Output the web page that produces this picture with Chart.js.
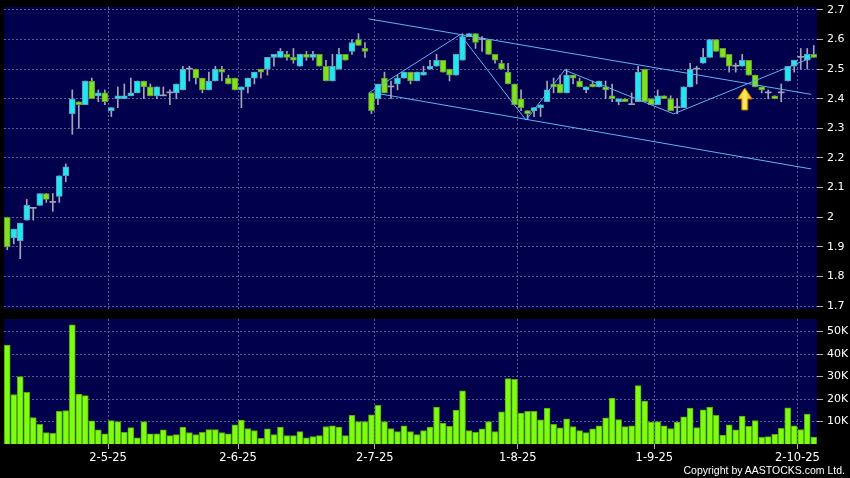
<!DOCTYPE html>
<html>
<head>
<meta charset="utf-8">
<script src="https://cdn.jsdelivr.net/npm/chart.js@4.4.1/dist/chart.umd.min.js"></script>
<style>
  html, body { margin: 0; padding: 0; background: #000; }
  #wrap { position: relative; width: 850px; height: 478px; background: #000; overflow: hidden; }
  #priceChart { position: absolute; left: 0; top: -3px; }
  #volChart { position: absolute; left: 0; top: 309px; }
  #copy { position: absolute; right: 5px; top: 464px; font: 10.5px "Liberation Sans", Arial, sans-serif; color: #fff; line-height: 12px; white-space: nowrap; }
</style>
</head>
<body>
<div id="wrap">
  <canvas id="priceChart" width="850" height="322"></canvas>
  <canvas id="volChart" width="850" height="169"></canvas>
  <div id="copy">Copyright by AASTOCKS.com Ltd.</div>
</div>
<script>
// daily candles, one entry per trading day (left to right)
const opens = [
  2.00, 1.93, 1.92, 1.99, 2.03, 2.04, 2.08, 2.05, 2.07, 2.14,
  2.35, 2.39, 2.38, 2.46, 2.41, 2.42, 2.36, 2.40, 2.40, 2.41,
  2.42, 2.46, 2.44, 2.41, 2.41, 2.42, 2.42, 2.43, 2.50, 2.50,
  2.47, 2.43, 2.46, 2.50, 2.47, 2.47, 2.43, 2.44, 2.47, 2.50,
  2.50, 2.54, 2.54, 2.55, 2.54, 2.51, 2.55, 2.54, 2.55, 2.51,
  2.46, 2.50, 2.55, 2.56, 2.60, 2.57, 2.42, 2.40, 2.47, 2.44,
  2.45, 2.47, 2.49, 2.46, 2.48, 2.50, 2.51, 2.53, 2.50, 2.48,
  2.53, 2.61, 2.62, 2.60, 2.60, 2.55, 2.52, 2.49, 2.45, 2.40,
  2.36, 2.36, 2.37, 2.39, 2.45, 2.45, 2.42, 2.48, 2.46, 2.43,
  2.45, 2.44, 2.44, 2.41, 2.39, 2.40, 2.38, 2.39, 2.50, 2.40,
  2.38, 2.41, 2.40, 2.37, 2.37, 2.44, 2.50, 2.52, 2.54, 2.60,
  2.57, 2.55, 2.51, 2.51, 2.53, 2.48, 2.44, 2.42, 2.41, 2.42,
  2.46, 2.51, 2.54, 2.53, 2.55
];
const highs = [
  2.00, 1.96, 1.98, 2.06, 2.03, 2.08, 2.08, 2.08, 2.14, 2.18,
  2.43, 2.39, 2.46, 2.47, 2.43, 2.43, 2.37, 2.44, 2.45, 2.47,
  2.46, 2.46, 2.45, 2.44, 2.44, 2.43, 2.45, 2.51, 2.51, 2.50,
  2.47, 2.49, 2.51, 2.51, 2.48, 2.47, 2.44, 2.47, 2.49, 2.50,
  2.54, 2.55, 2.57, 2.56, 2.57, 2.55, 2.56, 2.56, 2.55, 2.53,
  2.55, 2.57, 2.55, 2.60, 2.62, 2.59, 2.42, 2.45, 2.49, 2.46,
  2.48, 2.49, 2.49, 2.49, 2.51, 2.53, 2.55, 2.53, 2.50, 2.55,
  2.62, 2.62, 2.62, 2.61, 2.60, 2.55, 2.53, 2.52, 2.45, 2.43,
  2.36, 2.37, 2.38, 2.46, 2.47, 2.48, 2.50, 2.48, 2.47, 2.44,
  2.46, 2.46, 2.46, 2.45, 2.40, 2.40, 2.42, 2.51, 2.50, 2.40,
  2.43, 2.41, 2.41, 2.40, 2.44, 2.52, 2.51, 2.57, 2.60, 2.60,
  2.57, 2.55, 2.52, 2.55, 2.53, 2.48, 2.44, 2.43, 2.41, 2.45,
  2.51, 2.53, 2.57, 2.57, 2.58
];
const lows = [
  1.89, 1.91, 1.86, 1.99, 1.99, 2.04, 2.05, 2.02, 2.05, 2.12,
  2.28, 2.30, 2.38, 2.40, 2.39, 2.38, 2.34, 2.37, 2.40, 2.41,
  2.42, 2.40, 2.41, 2.40, 2.41, 2.38, 2.40, 2.43, 2.46, 2.45,
  2.42, 2.43, 2.46, 2.46, 2.45, 2.43, 2.37, 2.42, 2.45, 2.47,
  2.48, 2.51, 2.54, 2.53, 2.52, 2.51, 2.53, 2.53, 2.51, 2.46,
  2.46, 2.50, 2.53, 2.55, 2.58, 2.54, 2.35, 2.38, 2.42, 2.40,
  2.43, 2.47, 2.45, 2.46, 2.48, 2.50, 2.51, 2.49, 2.46, 2.48,
  2.53, 2.61, 2.57, 2.56, 2.55, 2.52, 2.50, 2.45, 2.38, 2.36,
  2.33, 2.34, 2.34, 2.39, 2.42, 2.42, 2.42, 2.45, 2.44, 2.42,
  2.44, 2.44, 2.40, 2.39, 2.38, 2.39, 2.38, 2.39, 2.39, 2.38,
  2.38, 2.40, 2.36, 2.35, 2.37, 2.44, 2.45, 2.52, 2.54, 2.56,
  2.54, 2.49, 2.49, 2.51, 2.48, 2.44, 2.42, 2.40, 2.40, 2.39,
  2.46, 2.49, 2.50, 2.50, 2.54
];
const closes = [
  1.90, 1.96, 1.98, 2.04, 2.03, 2.08, 2.06, 2.05, 2.14, 2.17,
  2.40, 2.38, 2.46, 2.40, 2.42, 2.39, 2.37, 2.41, 2.41, 2.42,
  2.46, 2.44, 2.41, 2.44, 2.41, 2.42, 2.45, 2.50, 2.50, 2.47,
  2.43, 2.46, 2.50, 2.49, 2.45, 2.43, 2.44, 2.47, 2.49, 2.49,
  2.54, 2.55, 2.56, 2.54, 2.53, 2.55, 2.54, 2.55, 2.51, 2.46,
  2.51, 2.55, 2.53, 2.59, 2.58, 2.56, 2.36, 2.45, 2.42, 2.44,
  2.47, 2.49, 2.46, 2.49, 2.49, 2.51, 2.53, 2.49, 2.48, 2.55,
  2.61, 2.62, 2.59, 2.60, 2.55, 2.53, 2.50, 2.45, 2.38, 2.37,
  2.35, 2.37, 2.38, 2.43, 2.44, 2.42, 2.48, 2.47, 2.44, 2.44,
  2.44, 2.46, 2.43, 2.40, 2.40, 2.39, 2.38, 2.49, 2.39, 2.38,
  2.41, 2.40, 2.36, 2.37, 2.44, 2.50, 2.50, 2.54, 2.60, 2.56,
  2.54, 2.51, 2.51, 2.53, 2.48, 2.44, 2.43, 2.42, 2.40, 2.42,
  2.51, 2.53, 2.54, 2.55, 2.54
];
const volumes = [
  44000, 22000, 30000, 23000, 11800, 8700, 5100, 4800, 14500, 14900,
  53000, 22200, 21500, 10300, 6300, 4500, 10400, 10000, 5200, 7300,
  2800, 10000, 4500, 4500, 6300, 3700, 4200, 7500, 5100, 4200,
  5200, 6400, 6400, 5100, 4500, 8500, 10600, 6900, 6000, 2500,
  6700, 4200, 7500, 3700, 3700, 5500, 2800, 3300, 3700, 7800,
  8100, 7500, 3700, 12700, 10000, 10000, 13000, 17200, 10000, 6900,
  5500, 8100, 5500, 4200, 6000, 7500, 16400, 9300, 7900, 15100,
  23600, 6000, 5200, 6700, 10000, 5500, 14300, 29100, 28800, 13700,
  14500, 14500, 10700, 16000, 8800, 7200, 11200, 7800, 6000, 5100,
  6700, 8100, 11600, 20400, 10900, 7800, 8100, 26000, 19100, 9700,
  10000, 8100, 6900, 9700, 12100, 16000, 7300, 15200, 16400, 12700,
  4000, 8500, 6300, 12400, 7900, 10400, 3000, 3300, 4300, 7000,
  16100, 8100, 6400, 13300, 3100
];

// axis ticks (x positions are day indexes, grid falls between two days)
const tickPos = [15.5, 35.5, 56.5, 78.5, 99.5, 121.5];
const tickLabels = ['2-5-25', '2-6-25', '2-7-25', '1-8-25', '1-9-25', '2-10-25'];
const priceTicks = [1.7, 1.8, 1.9, 2.0, 2.1, 2.2, 2.3, 2.4, 2.5, 2.6, 2.7];
const volTicks = [10000, 20000, 30000, 40000, 50000];

// drawn trend lines (day index, price)
const upperLine = [{ x: 55.55, y: 2.670 }, { x: 123.6, y: 2.415 }];
const lowerLine = [{ x: 56.9, y: 2.418 }, { x: 123.6, y: 2.163 }];
const zigzag = [
  { x: 55.6, y: 2.420 }, { x: 69.65, y: 2.617 }, { x: 79.76, y: 2.328 },
  { x: 85.7, y: 2.497 }, { x: 102.47, y: 2.349 }, { x: 123.66, y: 2.539 }
];
const arrowAt = { x: 113.4, y: 2.4365 };

const NAVY = '#00004c';
const GRID = '#5c5c96';
const UP = '#22e6f2', UP_EDGE = '#5c9fb8';
const DOWN = '#7ee21e', DOWN_EDGE = '#5f9a34';
const WICK = '#a4a4b8';
const VOL = '#7efc12', VOL_EDGE = '#52aa0c';
const TREND = '#5ab6f2';
const N = opens.length;

const plotBg = {
    id: 'plotBg',
    beforeDraw(chart) {
        const a = chart.chartArea;
        const c = chart.ctx;
        c.save();
        c.fillStyle = NAVY;
        c.fillRect(a.left, a.top, a.right - a.left, a.bottom - a.top);
        c.restore();
    }
};

const arrowMark = {
    id: 'arrowMark',
    afterDatasetsDraw(chart) {
        const c = chart.ctx;
        const px = chart.scales.x.getPixelForValue(arrowAt.x);
        const py = chart.scales.y.getPixelForValue(arrowAt.y);
        c.save();
        const g = c.createLinearGradient(px - 7, 0, px + 7, 0);
        g.addColorStop(0, '#ffb400');
        g.addColorStop(0.5, '#fff060');
        g.addColorStop(1, '#f0a000');
        c.fillStyle = g;
        c.strokeStyle = '#b87800';
        c.lineWidth = 1;
        c.beginPath();
        c.moveTo(px, py);
        c.lineTo(px + 7.5, py + 11);
        c.lineTo(px + 3, py + 11);
        c.lineTo(px + 3, py + 22);
        c.lineTo(px - 3, py + 22);
        c.lineTo(px - 3, py + 11);
        c.lineTo(px - 7.5, py + 11);
        c.closePath();
        c.fill();
        c.stroke();
        c.restore();
    }
};

function bodyColor(ctx) {
    const i = ctx.dataIndex;
    if (closes[i] > opens[i]) return UP;
    if (closes[i] < opens[i]) return DOWN;
    return WICK;
}
function bodyEdge(ctx) {
    const i = ctx.dataIndex;
    if (closes[i] > opens[i]) return UP_EDGE;
    if (closes[i] < opens[i]) return DOWN_EDGE;
    return WICK;
}

const bodyData = opens.map((o, i) => ({ x: i, y: [o, closes[i]] }));
const wickData = lows.map((l, i) => ({ x: i, y: [l, highs[i]] }));
const volData = volumes.map((v, i) => ({ x: i, y: v }));

// label half height (6) + tick padding (4) is reserved above/below each plot
const fontY = { family: 'DejaVu Sans', size: 11, lineHeight: '12px' };
const fontX = { family: 'DejaVu Sans', size: 11.5 };

new Chart(document.getElementById('priceChart'), {
    type: 'bar',
    data: {
        datasets: [
            { type: 'line', data: upperLine, borderColor: TREND, borderWidth: 1, pointRadius: 0, order: 0 },
            { type: 'line', data: lowerLine, borderColor: TREND, borderWidth: 1, pointRadius: 0, order: 0 },
            { type: 'line', data: zigzag, borderColor: TREND, borderWidth: 1, pointRadius: 0, order: 0 },
            {
                data: bodyData,
                backgroundColor: bodyColor,
                borderColor: bodyEdge,
                borderWidth: ctx => (opens[ctx.dataIndex] === closes[ctx.dataIndex] ? 0 : 1),
                borderSkipped: false,
                barThickness: 6,
                minBarLength: 1,
                grouped: false,
                order: 1
            },
            {
                data: wickData,
                backgroundColor: WICK,
                borderWidth: 0,
                barThickness: 1,
                grouped: false,
                order: 2
            }
        ]
    },
    options: {
        responsive: false,
        animation: false,
        layout: { padding: { left: 4, top: 0, right: 0, bottom: 0 } },
        plugins: { legend: { display: false }, tooltip: { enabled: false } },
        scales: {
            x: {
                type: 'linear',
                min: -0.5,
                max: N - 0.5,
                offset: false,
                afterBuildTicks: s => { s.ticks = tickPos.map(v => ({ value: v })); },
                afterFit: s => { s.height = 0; },
                ticks: { display: false },
                grid: { color: GRID, drawTicks: false, offset: false },
                border: { display: false, dash: [2, 2] }
            },
            y: {
                position: 'right',
                min: 1.69,
                max: 2.71,
                afterBuildTicks: s => { s.ticks = priceTicks.map(v => ({ value: v })); },
                afterFit: s => { s.width = 33; },
                ticks: {
                    color: '#ffffff',
                    font: fontY,
                    padding: 4,
                    callback: v => String(Number(v.toFixed(1)))
                },
                grid: { color: GRID, drawTicks: true, tickLength: 6, tickColor: '#b0b0b0', tickBorderDash: [] },
                border: { display: false, dash: [2, 2] }
            }
        }
    },
    plugins: [plotBg, arrowMark]
});

new Chart(document.getElementById('volChart'), {
    type: 'bar',
    data: {
        datasets: [{
            data: volData,
            backgroundColor: VOL,
            borderColor: VOL_EDGE,
            borderWidth: 1,
            borderSkipped: 'bottom',
            barThickness: 6
        }]
    },
    options: {
        responsive: false,
        animation: false,
        layout: { padding: { left: 4, top: 0, right: 0, bottom: 0 } },
        plugins: { legend: { display: false }, tooltip: { enabled: false } },
        scales: {
            x: {
                type: 'linear',
                min: -0.5,
                max: N - 0.5,
                offset: false,
                afterBuildTicks: s => { s.ticks = tickPos.map(v => ({ value: v })); },
                afterFit: s => { s.height = 34; },
                ticks: {
                    color: '#ffffff',
                    font: fontX,
                    padding: 2,
                    maxRotation: 0,
                    autoSkip: false,
                    callback: v => {
                        const k = tickPos.indexOf(v);
                        return k >= 0 ? tickLabels[k] : '';
                    }
                },
                grid: { color: GRID, drawTicks: true, tickLength: 5, tickColor: '#b0b0b0', tickBorderDash: [], offset: false },
                border: { display: false, dash: [2, 2] }
            },
            y: {
                position: 'right',
                min: 0,
                max: 55600,
                afterBuildTicks: s => { s.ticks = volTicks.map(v => ({ value: v })); },
                afterFit: s => { s.width = 33; },
                ticks: {
                    color: '#ffffff',
                    font: fontY,
                    padding: 4,
                    callback: v => (v / 1000) + 'K'
                },
                grid: { color: GRID, drawTicks: true, tickLength: 6, tickColor: '#b0b0b0', tickBorderDash: [] },
                border: { display: false, dash: [2, 2] }
            }
        }
    },
    plugins: [plotBg]
});
</script>
</body>
</html>
